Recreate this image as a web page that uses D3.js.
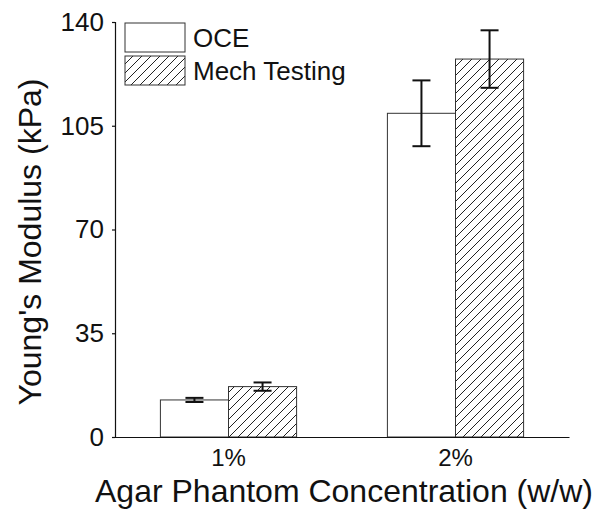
<!DOCTYPE html>
<html>
<head>
<meta charset="utf-8">
<script src="https://cdn.jsdelivr.net/npm/d3@7"></script>
<style>
  html, body { margin: 0; padding: 0; background: #fff; }
  svg { display: block; }
  text { font-family: "Liberation Sans", Arial, sans-serif; fill: #111; }
</style>
</head>
<body>
<svg id="chart" width="602" height="520"></svg>
<script>
const categories = ["1%", "2%"];
const seriesNames = ["OCE", "Mech Testing"];
const oceValues = [12.5, 109.2];
const oceErrors = [0.7, 11.1];
const mechValues = [17.0, 127.5];
const mechErrors = [1.4, 9.7];
const yTicks = [0, 35, 70, 105, 140];

const svg = d3.select("#chart");
const margin = { left: 115, right: 33, top: 22, bottom: 83 };
const W = 602, H = 520;

const defs = svg.append("defs");
const pat = defs.append("pattern")
  .attr("id", "hatch")
  .attr("patternUnits", "userSpaceOnUse")
  .attr("width", 9).attr("height", 9);
pat.append("rect").attr("width", 9).attr("height", 9).attr("fill", "#fff");
pat.append("path")
  .attr("d", "M0,9 L9,0 M-3,3 L3,-3 M6,12 L12,6")
  .attr("stroke", "#222").attr("stroke-width", 1);

const x0 = d3.scaleBand().domain(categories).range([margin.left, W - margin.right]).paddingInner(0).paddingOuter(0);
const groupW = x0.bandwidth() * 0.6;
const x1 = d3.scaleBand().domain(seriesNames).range([0, groupW]);
const y = d3.scaleLinear().domain([0, 140]).range([H - margin.bottom, margin.top]);

const series = [
  { name: "OCE", values: oceValues, errors: oceErrors, fill: "#fff" },
  { name: "Mech Testing", values: mechValues, errors: mechErrors, fill: "url(#hatch)" }
];

const barData = [];
categories.forEach((c, i) => {
  series.forEach(s => {
    barData.push({ cat: c, name: s.name, v: s.values[i], e: s.errors[i], fill: s.fill });
  });
});

const bx = d => x0(d.cat) + (x0.bandwidth() - groupW) / 2 + x1(d.name);

svg.append("g").selectAll("rect").data(barData).join("rect")
  .attr("x", d => bx(d))
  .attr("y", d => y(d.v))
  .attr("width", x1.bandwidth())
  .attr("height", d => y(0) - y(d.v))
  .attr("fill", d => d.fill)
  .attr("stroke", "#333")
  .attr("stroke-width", 1);

// error bars
const eg = svg.append("g").attr("stroke", "#111").attr("stroke-width", 2);
barData.forEach(d => {
  const cx = bx(d) + x1.bandwidth() / 2;
  const capW = 9;
  eg.append("line").attr("x1", cx).attr("x2", cx).attr("y1", y(d.v + d.e)).attr("y2", y(d.v - d.e));
  eg.append("line").attr("x1", cx - capW).attr("x2", cx + capW).attr("y1", y(d.v + d.e)).attr("y2", y(d.v + d.e));
  eg.append("line").attr("x1", cx - capW).attr("x2", cx + capW).attr("y1", y(d.v - d.e)).attr("y2", y(d.v - d.e));
});

// y axis
const yAxis = svg.append("g")
  .attr("transform", `translate(${margin.left},0)`)
  .call(d3.axisLeft(y).tickValues(yTicks).tickSize(3).tickPadding(8));
yAxis.select(".domain").attr("stroke", "#111").attr("stroke-width", 1.2);
yAxis.selectAll(".tick line").attr("stroke", "#111").attr("stroke-width", 1.2);
yAxis.selectAll(".tick text").attr("font-size", 26).attr("font-family", "Liberation Sans, Arial, sans-serif").attr("fill", "#111");

// x axis
const xAxis = svg.append("g")
  .attr("transform", `translate(0,${y(0)})`)
  .call(d3.axisBottom(x0).tickSize(0).tickPadding(12));
xAxis.select(".domain").attr("stroke", "#111").attr("stroke-width", 1.2);
xAxis.selectAll(".tick text").attr("font-size", 24).attr("font-family", "Liberation Sans, Arial, sans-serif").attr("fill", "#111").attr("dy", "0.71em");

// axis titles
svg.append("text")
  .attr("transform", `translate(41,242) rotate(-90)`)
  .attr("text-anchor", "middle")
  .attr("font-size", 32)
  .text("Young's Modulus (kPa)");

svg.append("text")
  .attr("x", 344).attr("y", 502)
  .attr("text-anchor", "middle")
  .attr("font-size", 32)
  .text("Agar Phantom Concentration (w/w)");

// legend
const lg = svg.append("g");
series.forEach((s, i) => {
  const yy = 23 + i * 33;
  lg.append("rect").attr("x", 125).attr("y", yy).attr("width", 60).attr("height", 29)
    .attr("fill", s.fill).attr("stroke", "#333").attr("stroke-width", 1);
  lg.append("text").attr("x", 193).attr("y", yy + 24).attr("font-size", 26).text(s.name);
});
</script>
</body>
</html>
